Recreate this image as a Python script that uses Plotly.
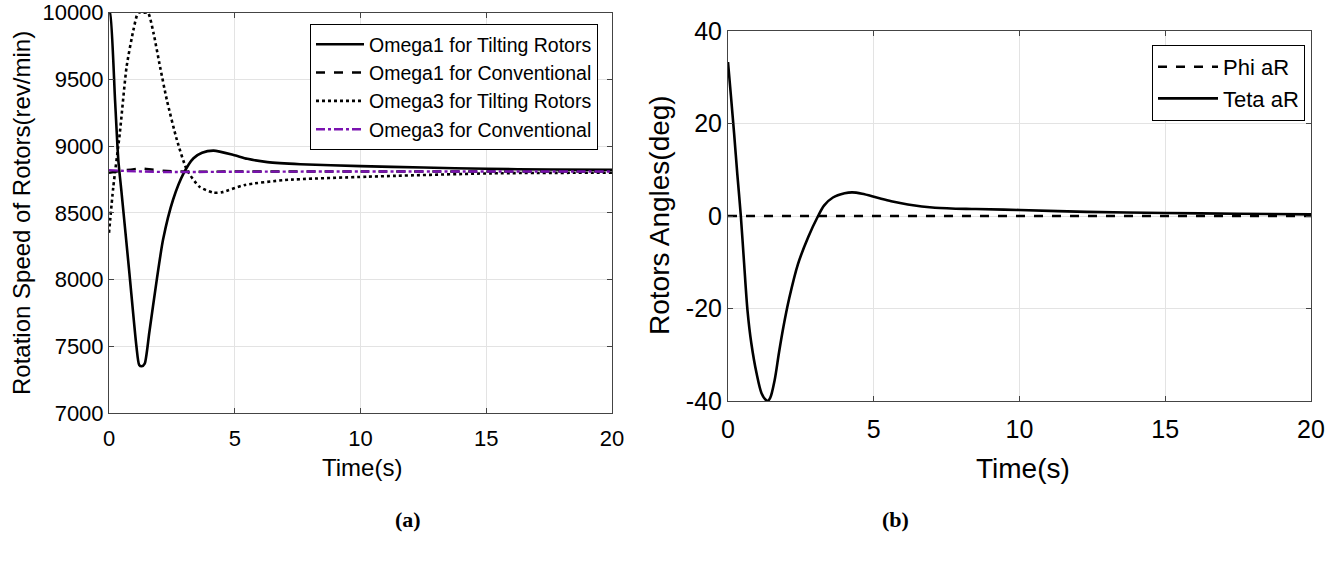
import plotly.graph_objects as go

# ---- panel (a): rotor speeds ----
t_w1_tilt = [0, 0.04, 0.24, 0.37, 0.5, 0.81, 1.09, 1.2, 1.3, 1.42, 1.6, 1.9, 2.15, 2.55, 2.97, 3.36, 3.7, 4.16, 4.95, 5.5, 6.3, 7.6, 10, 12.5, 15, 17.5, 20]
w1_tilt = [10000, 10000, 9346, 8896, 8650, 8050, 7500, 7360, 7350, 7370, 7600, 8000, 8300, 8600, 8797, 8909, 8950, 8966, 8934, 8905, 8880, 8864, 8850, 8840, 8830, 8825, 8822]

t_w1_conv = [0, 0.5, 1.0, 1.3, 1.8, 2.5, 3.5, 5, 10, 20]
w1_conv = [8800, 8815, 8828, 8832, 8822, 8812, 8808, 8810, 8810, 8810]

t_w3_tilt = [0, 0.17, 0.43, 0.70, 0.97, 1.16, 1.35, 1.55, 1.77, 2.03, 2.3, 2.7, 3.1, 3.6, 4.15, 4.5, 5.4, 7, 10.3, 15.2, 20]
w3_tilt = [8350, 8693, 9097, 9595, 9870, 10000, 10000, 10000, 9847, 9595, 9346, 9046, 8821, 8695, 8651, 8655, 8709, 8746, 8771, 8796, 8801]

t_w3_conv = [0, 0.5, 1.3, 2.5, 5, 10, 20]
w3_conv = [8820, 8815, 8810, 8806, 8808, 8810, 8810]

# ---- panel (b): rotor angles ----
t_phi = [0, 20]
phi_ar = [0, 0]

t_teta = [0, 0.1, 0.21, 0.32, 0.44, 0.55, 0.67, 0.8, 0.98, 1.15, 1.3, 1.36, 1.45, 1.6, 1.75, 1.9, 2.1, 2.4, 2.75, 3.09, 3.3, 3.6, 4.0, 4.26, 4.6, 5.1, 5.6, 6.17, 7.1, 8.5, 10, 12.3, 15, 17.5, 20]
teta_ar = [33.3, 26, 17.8, 9, 0, -10, -20.5, -27.5, -34, -38.3, -39.8, -40, -39.3, -35.5, -29.5, -24, -17.8, -10.4, -4.6, 0, 2.3, 4.0, 4.9, 5.1, 4.8, 4.0, 3.2, 2.5, 1.8, 1.5, 1.3, 0.9, 0.65, 0.5, 0.35]

speed_ticks = [7000, 7500, 8000, 8500, 9000, 9500, 10000]
speed_ticktext = ["7000", "7500", "8000", "8500", "9000", "9500", "10000"]
angle_ticks = [-40, -20, 0, 20, 40]
angle_ticktext = ["-40", "-20", "0", "20", "40"]
time_ticks = [0, 5, 10, 15, 20]

W, H = 1338, 563
FONT = "Liberation Sans, Arial, sans-serif"
SERIF = "Liberation Serif, Times New Roman, serif"
PURPLE = "#7A12B0"

fig = go.Figure()

fig.add_trace(go.Scatter(x=t_w1_tilt, y=w1_tilt, name="Omega1 for Tilting Rotors",
                         mode="lines", line=dict(color="black", width=2.6, shape="spline", smoothing=0.6),
                         xaxis="x", yaxis="y", legend="legend"))
fig.add_trace(go.Scatter(x=t_w1_conv, y=w1_conv, name="Omega1 for Conventional",
                         mode="lines", line=dict(color="black", width=2.4, dash="dash", shape="spline"),
                         xaxis="x", yaxis="y", legend="legend"))
fig.add_trace(go.Scatter(x=t_w3_tilt, y=w3_tilt, name="Omega3 for Tilting Rotors",
                         mode="lines", line=dict(color="black", width=2.6, dash="dot", shape="spline", smoothing=0.6),
                         xaxis="x", yaxis="y", legend="legend"))
fig.add_trace(go.Scatter(x=t_w3_conv, y=w3_conv, name="Omega3 for Conventional",
                         mode="lines", line=dict(color=PURPLE, width=2.4, dash="dashdot", shape="spline"),
                         xaxis="x", yaxis="y", legend="legend"))

fig.add_trace(go.Scatter(x=t_phi, y=phi_ar, name="Phi aR",
                         mode="lines", line=dict(color="black", width=2.6, dash="dash"),
                         xaxis="x2", yaxis="y2", legend="legend2"))
fig.add_trace(go.Scatter(x=t_teta, y=teta_ar, name="Teta aR",
                         mode="lines", line=dict(color="black", width=2.6, shape="spline", smoothing=0.9),
                         xaxis="x2", yaxis="y2", legend="legend2"))

axis_common = dict(showline=True, linecolor="#444444", linewidth=1, mirror="ticks",
                   ticks="inside", ticklen=5, tickcolor="#444444", automargin=False,
                   showgrid=True, gridcolor="#e3e3e3", gridwidth=1, zeroline=False)

fig.update_layout(
    width=W, height=H,
    margin=dict(l=0, r=0, t=0, b=0, autoexpand=False),
    paper_bgcolor="white", plot_bgcolor="white",
    font=dict(family=FONT, color="black"),
    xaxis=dict(domain=[109 / W, 612 / W], range=[0, 20], tickvals=time_ticks,
               tickfont=dict(size=22), ticklabelstandoff=6, anchor="y", **axis_common),
    yaxis=dict(domain=[1 - 413 / H, 1 - 12.7 / H], range=[7000, 10000], tickvals=speed_ticks,
               ticktext=speed_ticktext, tickfont=dict(size=22), anchor="x", **axis_common),
    xaxis2=dict(domain=[728 / W, 1311 / W], range=[0, 20], tickvals=time_ticks,
                tickfont=dict(size=25), ticklabelstandoff=6, anchor="y2", **axis_common),
    yaxis2=dict(domain=[1 - 401 / H, 1 - 31 / H], range=[-40, 40], tickvals=angle_ticks,
                ticktext=angle_ticktext, tickfont=dict(size=25), anchor="x2", **axis_common),
    legend=dict(x=598 / W, y=1 - 24 / H, xanchor="right", yanchor="top",
                bgcolor="white", bordercolor="black", borderwidth=1, itemwidth=48,
                font=dict(size=19.5, family=FONT), tracegroupgap=0),
    legend2=dict(x=1305 / W, y=1 - 45 / H, xanchor="right", yanchor="top",
                 bgcolor="white", bordercolor="black", borderwidth=1, itemwidth=60,
                 font=dict(size=22, family=FONT), tracegroupgap=0),
    showlegend=True,
)

def label(text, x, y, size, angle=0, family=FONT):
    fig.add_annotation(text=text, x=x / W, y=1 - y / H, xref="paper", yref="paper",
                       showarrow=False, textangle=angle, xanchor="center", yanchor="middle",
                       font=dict(size=size, family=family, color="black"))

label("Rotation Speed of Rotors(rev/min)", 21, 213, 24, angle=-90)
label("Time(s)", 362, 467, 24)
label("Rotors Angles(deg)", 660, 215, 28, angle=-90)
label("Time(s)", 1023, 468, 28)
label("<b>(a)</b>", 408, 519, 22, family=SERIF)
label("<b>(b)</b>", 895, 519, 22, family=SERIF)

fig.write_html("out.html")
